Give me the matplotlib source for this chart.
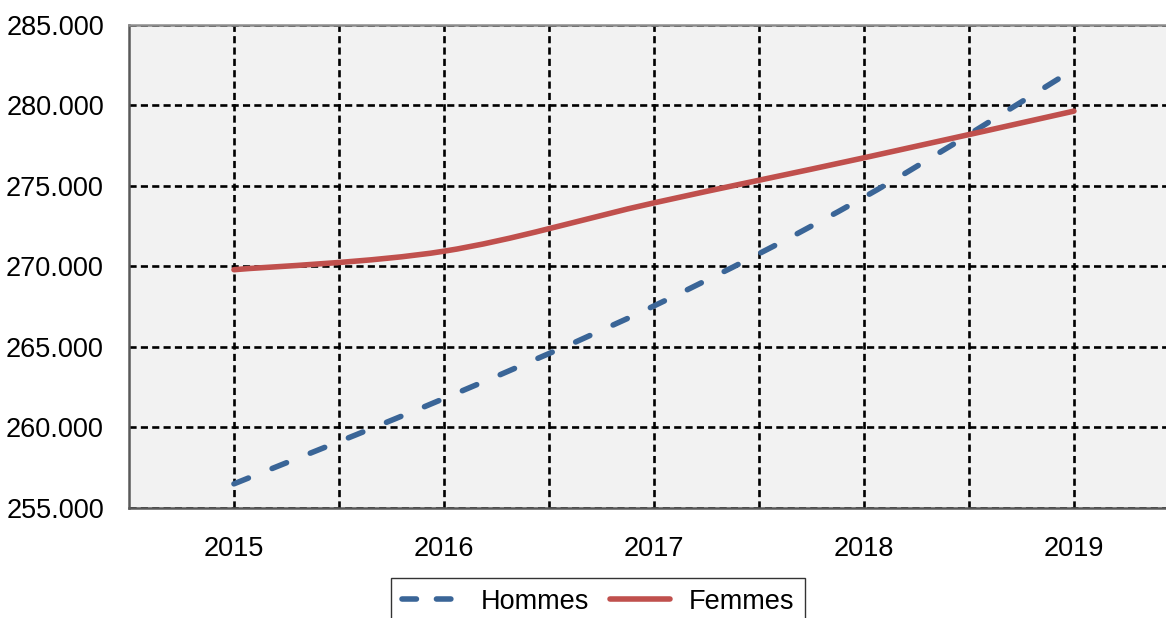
import numpy as np
import matplotlib
matplotlib.use("Agg")
import matplotlib.pyplot as plt
from matplotlib.path import Path
from matplotlib.patches import PathPatch
from matplotlib.lines import Line2D
from matplotlib.ticker import FuncFormatter, MultipleLocator

plt.rcParams['font.family'] = ['Liberation Sans', 'DejaVu Sans']

# data
years = ['2015', '2016', '2017', '2018', '2019']
hommes = [256500, 261800, 267550, 274300, 282250]
femmes = [269800, 270950, 273950, 276750, 279650]

col_h = '#3A6597'
col_f = '#C0504D'


def smooth_path(xs, ys):
    # Excel-like smoothed line: cubic bezier segments (Catmull-Rom control points)
    pts = np.column_stack([xs, ys]).astype(float)
    n = len(pts)
    verts = [pts[0]]
    codes = [Path.MOVETO]
    for i in range(n - 1):
        p0 = pts[i - 1] if i > 0 else pts[i]
        p1 = pts[i]
        p2 = pts[i + 1]
        p3 = pts[i + 2] if i + 2 < n else pts[i + 1]
        c1 = p1 + (p2 - p0) / 6.0
        c2 = p2 - (p3 - p1) / 6.0
        verts += [c1, c2, p2]
        codes += [Path.CURVE4] * 3
    return Path(verts, codes)


fig = plt.figure(figsize=(11.66, 6.18), dpi=100)
ax = fig.add_axes([0.1106, 0.178, 0.9005, 0.7816])
ax.set_facecolor('#F2F2F2')

x = np.arange(len(years))
grid_ls = (0, (2.7, 1.6))
lw = 4.0
dash_ls = (0, (2.8, 4.6))

# grid lines (category centres and boundaries)
ax.set_xlim(-0.5, len(years) - 0.5)
ax.set_ylim(255000, 285000)
ax.set_xticks(x)
ax.set_xticklabels(years)
ax.set_xticks(x[:-1] + 0.5, minor=True)
ax.yaxis.set_major_locator(MultipleLocator(5000))
ax.yaxis.set_major_formatter(FuncFormatter(lambda v, p: f"{v:,.0f}".replace(",", ".")))
ax.grid(True, which='both', axis='x', color='black', linewidth=1.9, linestyle=grid_ls)
ax.grid(True, which='major', axis='y', color='black', linewidth=1.9, linestyle=grid_ls)
ax.set_axisbelow(True)

ax.tick_params(axis='both', which='both', length=0, labelsize=19.5)
ax.tick_params(axis='x', pad=20)
ax.tick_params(axis='y', pad=18)

for s in ['left', 'bottom']:
    ax.spines[s].set_color('#595959')
    ax.spines[s].set_linewidth(1.8)
ax.spines['top'].set_color('#8C8C8C')
ax.spines['top'].set_linewidth(1.8)
ax.spines['right'].set_visible(False)

# series
p_h = PathPatch(smooth_path(x, hommes), fill=False, edgecolor=col_h, linewidth=lw,
                linestyle=dash_ls, capstyle='round', joinstyle='round', zorder=3)
p_f = PathPatch(smooth_path(x, femmes), fill=False, edgecolor=col_f, linewidth=lw,
                capstyle='round', joinstyle='round', zorder=4)
ax.add_patch(p_h)
ax.add_patch(p_f)

handles = [
    Line2D([], [], color=col_h, linewidth=lw, linestyle=(0, (2.6, 3.6)), dash_capstyle='round'),
    Line2D([], [], color=col_f, linewidth=lw, solid_capstyle='round'),
]
leg = fig.legend(handles, ['Hommes', 'Femmes'], loc='upper left',
                 bbox_to_anchor=(0.3353, 0.0647), bbox_transform=fig.transFigure,
                 borderaxespad=0, ncol=2, fontsize=19.5, frameon=True, fancybox=False,
                 handlelength=2.2, handletextpad=0.7, columnspacing=0.8,
                 borderpad=0.4)
leg.get_frame().set_edgecolor('black')
leg.get_frame().set_linewidth(1.0)

fig.savefig('out.png', dpi=100)
